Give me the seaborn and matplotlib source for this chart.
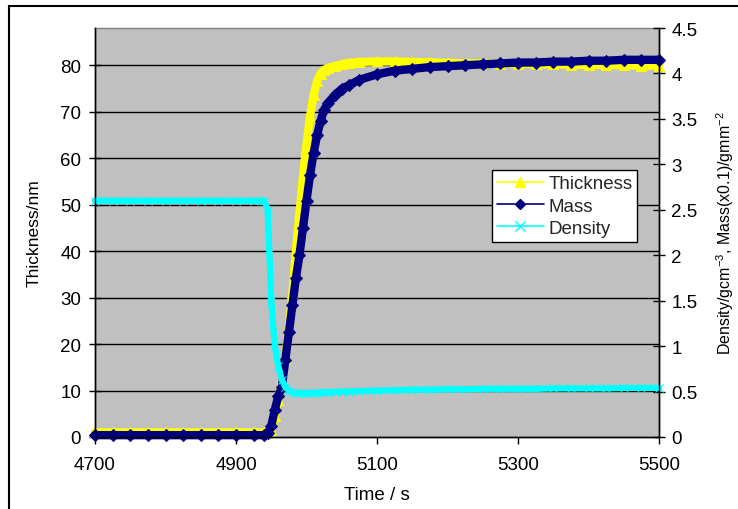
import matplotlib
matplotlib.use("Agg")
import matplotlib.pyplot as plt
import matplotlib.patches as mpatches
from matplotlib.lines import Line2D
from matplotlib.ticker import FuncFormatter
import seaborn as sns
import pandas as pd

# time (s)
time_s = [4700, 4725, 4750, 4775, 4800, 4825, 4850, 4875, 4900, 4925,
          4940, 4945, 4950, 4955, 4960, 4965, 4970, 4975, 4980, 4985,
          4990, 4995, 5000, 5005, 5010, 5015, 5020, 5025, 5030, 5040,
          5050, 5060, 5075, 5100, 5125, 5150, 5175, 5200, 5225, 5250,
          5275, 5300, 5325, 5350, 5375, 5400, 5425, 5450, 5475, 5500]

# thickness / nm (left axis)
thickness = [1.0, 1.0, 1.0, 1.0, 1.0, 1.0, 1.0, 1.0, 1.0, 1.0,
             1.0, 1.0, 1.5, 4.5, 8.0, 12.0, 17.0, 23.5, 31.0, 40.0,
             48.0, 56.0, 63.0, 69.0, 73.5, 76.5, 78.2, 79.0, 79.4, 79.8,
             80.2, 80.5, 80.7, 80.8, 80.8, 80.7, 80.6, 80.5, 80.4, 80.4,
             80.3, 80.3, 80.2, 80.2, 80.1, 80.1, 80.0, 80.0, 79.9, 79.9]

# mass (x0.1) / g mm^-2 (right axis)
mass = [0.02, 0.02, 0.02, 0.02, 0.02, 0.02, 0.02, 0.02, 0.02, 0.02,
        0.02, 0.04, 0.12, 0.30, 0.45, 0.55, 0.85, 1.15, 1.45, 1.75,
        2.00, 2.30, 2.60, 2.88, 3.12, 3.32, 3.48, 3.60, 3.67, 3.76,
        3.83, 3.87, 3.93, 3.99, 4.03, 4.05, 4.07, 4.08, 4.09, 4.10,
        4.11, 4.12, 4.12, 4.13, 4.13, 4.14, 4.14, 4.15, 4.15, 4.15]

# density / g cm^-3 (right axis)
density = [2.60, 2.60, 2.60, 2.60, 2.60, 2.60, 2.60, 2.60, 2.60, 2.60,
           2.60, 2.50, 1.50, 1.00, 0.78, 0.63, 0.55, 0.51, 0.49, 0.485,
           0.48, 0.48, 0.48, 0.48, 0.485, 0.485, 0.49, 0.49, 0.49, 0.495,
           0.50, 0.50, 0.505, 0.51, 0.515, 0.52, 0.52, 0.525, 0.525, 0.53,
           0.53, 0.53, 0.53, 0.535, 0.535, 0.535, 0.535, 0.54, 0.54, 0.54]

left_ticks = [0, 10, 20, 30, 40, 50, 60, 70, 80]
right_ticks = [0, 0.5, 1, 1.5, 2, 2.5, 3, 3.5, 4, 4.5]
x_ticks = [4700, 4900, 5100, 5300, 5500]

df = pd.DataFrame({"time": time_s, "thickness": thickness,
                   "mass": mass, "density": density})

sns.set_style("white")
plt.rcParams["font.family"] = ["Liberation Sans", "DejaVu Sans"]
plt.rcParams["mathtext.fontset"] = "custom"
plt.rcParams["mathtext.rm"] = "Liberation Sans"

fig = plt.figure(figsize=(7.38, 5.10), dpi=100)
ax = fig.add_axes([95 / 738, 72 / 510, 564 / 738, 409 / 510])
ax2 = ax.twinx()

yellow = "#FFFF00"
navy = "#000080"
cyan = "#00FFFF"
fs = 13.5

ax.set_facecolor("#C0C0C0")
for y in left_ticks[1:]:
    ax.axhline(y, color="black", lw=1.0, zorder=0)

# thick bands (dense markers in the original) + point markers
sns.lineplot(data=df, x="time", y="thickness", ax=ax, color=yellow, lw=6,
             marker="^", markersize=7, markeredgecolor=yellow, clip_on=False,
             legend=False)
sns.lineplot(data=df, x="time", y="mass", ax=ax2, color=navy, lw=6,
             marker="D", markersize=6, markeredgecolor=navy, clip_on=False,
             legend=False)
sns.lineplot(data=df, x="time", y="density", ax=ax2, color=cyan, lw=4.5,
             marker="x", markersize=6, markeredgecolor=cyan, clip_on=False,
             legend=False)

ax.set_xlim(4700, 5500)
ax.set_ylim(0, 88)
ax2.set_ylim(0, 4.5)
ax.set_xticks(x_ticks)
ax.set_yticks(left_ticks)
ax2.set_yticks(right_ticks)
ax2.yaxis.set_major_formatter(FuncFormatter(lambda v, p: f"{v:g}"))

for a in (ax, ax2):
    for s in a.spines.values():
        s.set_linewidth(1.0)
        s.set_color("black")
ax.spines["top"].set_color("#808080")
ax2.spines["top"].set_visible(False)

ax.tick_params(axis="y", direction="inout", length=8, width=1, labelsize=fs,
               pad=6, colors="black", left=True)
ax.tick_params(axis="x", direction="out", length=5, width=1, labelsize=fs,
               pad=9, colors="black", bottom=True)
ax2.tick_params(axis="y", direction="inout", length=8, width=1, labelsize=fs,
                pad=5, colors="black", right=True)

ax.set_xlabel("Time / s", fontsize=fs, labelpad=9)
ax.set_ylabel("Thickness/nm", fontsize=12.5, labelpad=13)
ax2.set_ylabel(r"Density/gcm$^{-3}$, Mass(x0.1)/gmm$^{-2}$", fontsize=11.5,
               labelpad=12)
ax.xaxis.label.set_color("black")
ax.yaxis.label.set_color("black")
ax2.yaxis.label.set_color("black")

handles = [
    Line2D([], [], color=yellow, lw=1.2, marker="^", markersize=7,
           markeredgecolor=yellow),
    Line2D([], [], color=navy, lw=1.2, marker="D", markersize=5,
           markeredgecolor=navy),
    Line2D([], [], color=cyan, lw=1.2, marker="x", markersize=7,
           markeredgecolor=cyan),
]
leg = ax2.legend(handles, ["Thickness", "Mass", "Density"],
                 loc="upper left", bbox_to_anchor=(0.704, 0.652),
                 fontsize=fs, frameon=True, fancybox=False, framealpha=1,
                 edgecolor="black", borderpad=0.25, labelspacing=0.28,
                 handlelength=2.5, handletextpad=0.25, borderaxespad=0)
leg.get_frame().set_linewidth(1.0)

# outer chart frame
frame = mpatches.Rectangle((9 / 738, -0.02), 1.1, (510 - 7) / 510 + 0.02,
                           transform=fig.transFigure, fill=False,
                           edgecolor="black", lw=1.5, clip_on=False)
fig.patches.append(frame)

fig.savefig("out.png", dpi=100, facecolor="white")
